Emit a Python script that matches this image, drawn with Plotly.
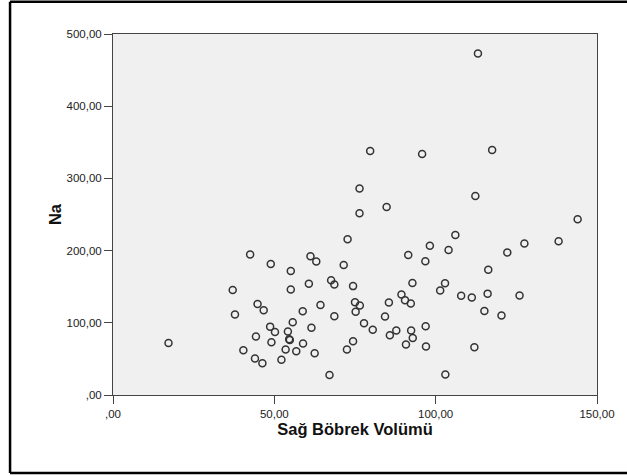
import plotly.graph_objects as go

# Sağ Böbrek Volümü (x) and Na (y)
sag_bobrek_volumu = [
    17.2, 37.1, 37.8, 40.4, 42.5, 44.0, 44.3, 44.8, 46.3, 46.7,
    48.9, 48.7, 49.1, 50.2, 52.2, 53.5, 54.2, 54.6, 54.8, 55.1,
    55.1, 55.7, 56.8, 58.8, 58.9, 60.7, 61.2, 61.5, 62.5, 63.0,
    64.3, 67.1, 67.6, 68.6, 68.6, 71.5, 72.5, 72.7, 74.4, 74.4,
    75.0, 75.2, 76.5, 76.4, 76.4, 77.8, 79.7, 80.5, 84.3, 84.8,
    85.5, 85.8, 87.8, 89.4, 90.5, 90.8, 91.5, 92.3, 92.4, 92.8,
    92.9, 95.8, 96.8, 96.9, 97.0, 98.2, 101.4, 102.9, 103.0, 104.0,
    106.1, 107.9, 111.2, 112.0, 112.3, 113.1, 115.1, 116.1, 116.3, 117.5,
    120.4, 122.2, 126.0, 127.5, 138.1, 144.0,
]
na = [
    72.0, 145.4, 111.4, 61.9, 194.5, 50.4, 80.9, 126.0, 43.9, 117.3,
    181.4, 94.7, 73.0, 87.3, 48.8, 62.9, 87.8, 77.1, 76.3, 171.7,
    146.0, 100.7, 60.5, 115.9, 71.2, 154.0, 192.1, 93.1, 57.8, 184.8,
    124.7, 27.7, 158.9, 152.9, 109.0, 180.1, 62.9, 215.7, 150.8, 74.4,
    128.4, 115.2, 124.0, 285.9, 251.7, 99.3, 338.0, 90.3, 108.6, 260.4,
    128.0, 82.7, 89.3, 139.1, 131.4, 69.8, 193.8, 126.7, 89.2, 155.0,
    78.9, 333.8, 185.2, 95.2, 67.2, 206.6, 144.7, 154.7, 28.4, 200.7,
    221.5, 137.4, 134.9, 66.1, 275.6, 472.9, 116.3, 140.4, 173.4, 339.3,
    110.0, 197.4, 137.8, 209.8, 212.9, 243.4,
]

x_tickvals = [0, 50, 100, 150]
x_ticktext = [",00", "50,00", "100,00", "150,00"]
y_tickvals = [0, 100, 200, 300, 400, 500]
y_ticktext = [",00", "100,00", "200,00", "300,00", "400,00", "500,00"]

fig = go.Figure()
fig.add_trace(go.Scatter(
    x=sag_bobrek_volumu, y=na, mode="markers",
    marker=dict(symbol="circle-open", size=7, color="#333333",
                line=dict(width=1.5, color="#333333")),
    showlegend=False, hoverinfo="x+y",
))

axis_common = dict(
    showgrid=False, zeroline=False, showline=True, linecolor="#444444",
    linewidth=1, mirror=True, ticks="outside", ticklen=8, tickwidth=1,
    tickcolor="#444444", tickfont=dict(family="Liberation Sans, Arial", size=11.5, color="#222222"),
)

frame = dict(xref="paper", yref="paper", type="line",
             line=dict(color="black", width=2.5), layer="above")
fx0, fx1, fy0, fy1 = -0.2127, 1.3, -0.216, 1.089

fig.update_layout(
    width=627, height=476,
    margin=dict(l=113, r=25, t=34, b=81),
    paper_bgcolor="white", plot_bgcolor="#f0f0f0",
    xaxis=dict(range=[0, 150], tickvals=x_tickvals, ticktext=x_ticktext,
               title=dict(text="<b>Sağ Böbrek Volümü</b>", standoff=4,
                          font=dict(family="Liberation Sans, Arial", size=16.5, color="#111111")),
               **axis_common),
    yaxis=dict(range=[0, 500], tickvals=y_tickvals, ticktext=y_ticktext,
               title=dict(text="<b>Na</b>", standoff=0,
                          font=dict(family="Liberation Sans, Arial", size=16.5, color="#111111")),
               **axis_common),
    shapes=[
        dict(x0=fx0, x1=fx0, y0=fy0, y1=fy1, **frame),
        dict(x0=fx0, x1=fx1, y0=fy1, y1=fy1, **frame),
        dict(x0=fx0, x1=fx1, y0=fy0, y1=fy0, **frame),
    ],
)

fig.write_html("out.html", config={"displayModeBar": False},
               post_script="document.body.style.margin='0px';")
